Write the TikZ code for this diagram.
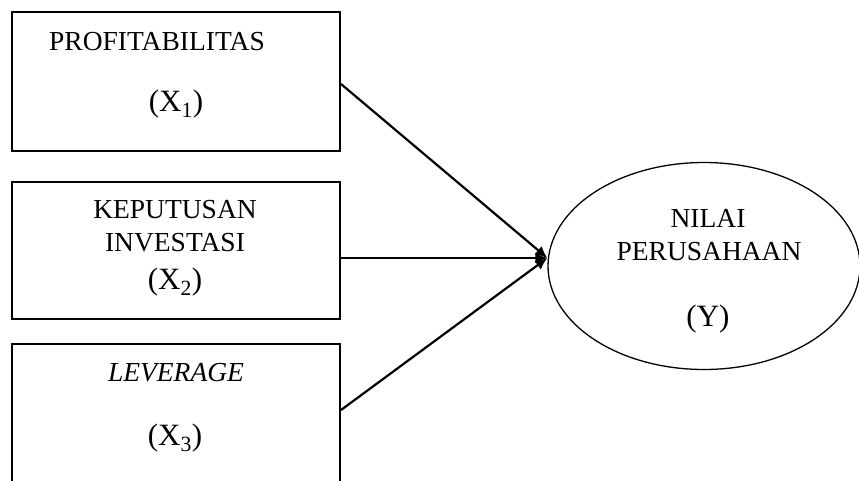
\documentclass[tikz,border=0pt]{standalone}
\usepackage{fontspec}
\setmainfont{Liberation Serif}
\usetikzlibrary{arrows.meta,shapes.geometric}

\tikzset{
  varbox/.style={draw,line width=2pt,minimum width=328pt,inner sep=0pt},
  txt/.style={inner sep=0pt,font=\fontsize{27.5}{30}\selectfont},
  sym/.style={inner sep=0pt,font=\fontsize{31}{33}\selectfont},
  path/.style={line width=2.2pt,-{Latex[length=12pt,width=11pt]}}
}

\begin{document}
\begin{tikzpicture}[x=1pt,y=-1pt]
  \clip (0,0) rectangle (859,481);
  \fill[white] (0,0) rectangle (859,481);
  % independent variables
  \node[varbox,minimum height=139pt] (x1) at (176,81.5) {};
  \node[varbox,minimum height=137pt] (x2) at (176,250.5) {};
  \node[varbox,minimum height=150pt] (x3) at (176,419) {};
  \node[txt] (x1name) at (157,42) {PROFITABILITAS};
  \node[sym] (x1sym) at (176,104) {(X\textsubscript{1})};
  \node[txt] (x2name) at (175,210) {KEPUTUSAN};
  \node[txt] (x2name2) at (175,243) {INVESTASI};
  \node[sym] (x2sym) at (175,282) {(X\textsubscript{2})};
  \node[txt] (x3name) at (176,373) {\itshape LEVERAGE};
  \node[sym] (x3sym) at (175,438) {(X\textsubscript{3})};
  % dependent variable
  \node[draw,ellipse,line width=1.3pt,minimum width=312pt,minimum height=207pt,inner sep=0pt] (y) at (704,266) {};
  \node[txt] (yname) at (708,218) {NILAI};
  \node[txt] (yname2) at (709,252) {PERUSAHAAN};
  \node[sym] (ysym) at (708,319) {(Y)};
  \coordinate (meet) at ([yshift=8pt]y.west);
  % paths
  \draw[path] ([yshift=-2.5pt]x1.east) -- (meet);
  \draw[path] ([yshift=-7.5pt]x2.east) -- (meet);
  \draw[path] ([yshift=9pt]x3.east) -- (meet);
\end{tikzpicture}
\end{document}
